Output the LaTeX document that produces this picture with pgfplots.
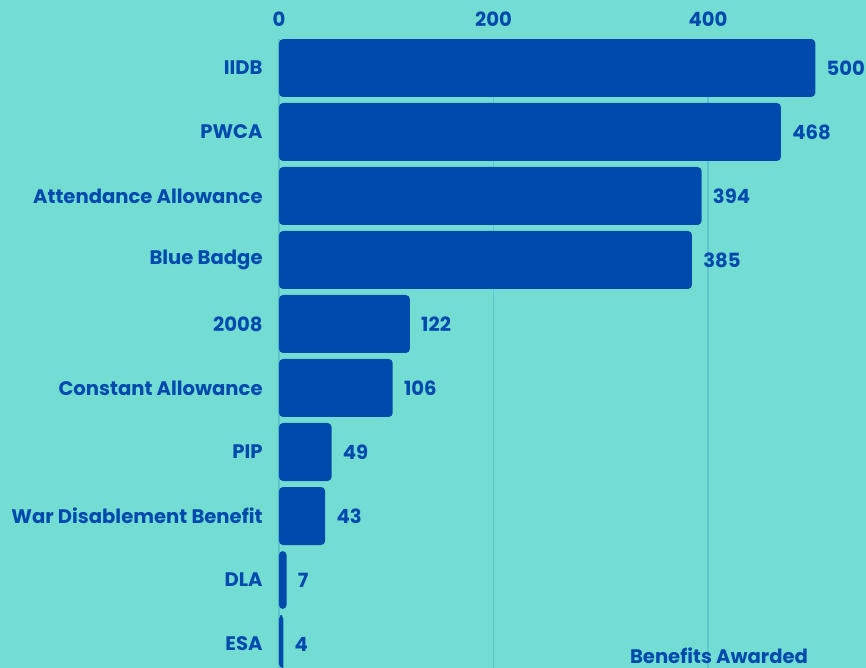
\documentclass[border=0pt]{standalone}
\usepackage{fontspec}
\setmainfont{Poppins}[BoldFont={* Bold}]
\usepackage{pgfplots}
\pgfplotsset{compat=1.18}
\usetikzlibrary{backgrounds}

\definecolor{bgteal}{HTML}{73DDD4}
\definecolor{barblue}{HTML}{004AAD}
\definecolor{gridteal}{HTML}{5CC6CC}

\newcommand{\lblfont}{\bfseries\fontsize{9.8pt}{11pt}\selectfont}

\begin{document}
\begin{tikzpicture}
\begin{axis}[
  xbar,
  scale only axis,
  x=0.53625pt, y=32pt,
  y dir=reverse,
  xmin=0, xmax=547,
  ymin=-0.45, ymax=9.375,
  xtick={0,200,400},
  xticklabel pos=top,
  ytick={0,...,9},
  yticklabels={IIDB,PWCA,Attendance Allowance,Blue Badge,2008,Constant Allowance,PIP,War Disablement Benefit,DLA,ESA},
  /pgf/number format/assume math mode=true,
  axis line style={draw=none},
  major tick length=0pt,
  xmajorgrids,
  grid style={gridteal, line width=0.6pt},
  bar width=29pt,
  font=\lblfont,
  tick label style={text=barblue, font=\lblfont, inner sep=0pt},
  yticklabel style={xshift=-8pt},
  xticklabel style={yshift=6pt},
  nodes near coords,
  nodes near coords align={horizontal},
  every node near coord/.append style={text=barblue, font=\lblfont, inner sep=0pt, xshift=5.5pt},
  xlabel={Benefits Awarded},
  xlabel style={at={(axis description cs:0.75,0)}, anchor=south, inner sep=0pt, yshift=2pt, text=barblue},
  clip mode=individual,
]
\addplot[fill=barblue, draw=none, rounded corners=2pt] coordinates {
  (500,0) (468,1) (394,2) (385,3) (122,4) (106,5) (49,6) (43,7) (7,8) (4,9)};
\end{axis}
\pgfresetboundingbox
\begin{scope}[on background layer]
\fill[bgteal] (-139.5pt,0pt) rectangle (293.5pt,334pt);
\end{scope}
\path[use as bounding box] (-139.5pt,0pt) rectangle (293.5pt,334pt);
\end{tikzpicture}
\end{document}
